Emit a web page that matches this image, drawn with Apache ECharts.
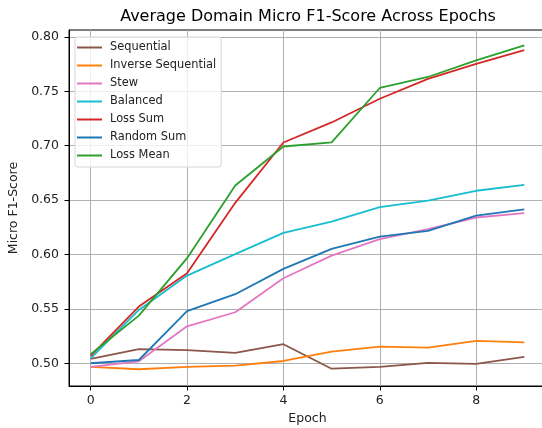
<!DOCTYPE html>
<html>
<head>
<meta charset="utf-8">
<script src="https://cdn.jsdelivr.net/npm/echarts@6/dist/echarts.min.js"></script>
<style>
  html, body { margin: 0; padding: 0; background: #fff; }
  #chart { width: 542px; height: 428px; }
</style>
</head>
<body>
<div id="chart"></div>
<script>
// Epochs on the x axis
const epochs = [0, 1, 2, 3, 4, 5, 6, 7, 8, 9];

// Average domain micro F1 per epoch, one array per training strategy
const sequential        = [0.504, 0.513, 0.512, 0.5095, 0.5175, 0.495, 0.4966, 0.5003, 0.4994, 0.5058];
const inverseSequential = [0.4966, 0.4945, 0.4966, 0.4978, 0.5021, 0.5107, 0.5153, 0.5144, 0.5205, 0.5193];
const stew              = [0.4966, 0.5018, 0.534, 0.5469, 0.5782, 0.599, 0.6141, 0.6233, 0.634, 0.638];
const balanced          = [0.5046, 0.549, 0.5806, 0.6003, 0.6199, 0.6303, 0.6436, 0.6496, 0.6586, 0.6641];
const lossSum           = [0.5067, 0.5521, 0.5828, 0.6475, 0.703, 0.7214, 0.7432, 0.7614, 0.7752, 0.788];
const randomSum         = [0.500, 0.503, 0.5479, 0.5635, 0.5868, 0.6052, 0.6165, 0.6218, 0.6358, 0.6414];
const lossMean          = [0.5083, 0.5438, 0.5966, 0.6634, 0.6993, 0.703, 0.7531, 0.7632, 0.7785, 0.7923];

// Tick positions
const xTicks = [0, 2, 4, 6, 8];
const yTicks = [0.50, 0.55, 0.60, 0.65, 0.70, 0.75, 0.80];

const seriesDefs = [
  { name: 'Sequential',         values: sequential,        color: '#8c564b' },
  { name: 'Inverse Sequential', values: inverseSequential, color: '#ff7f0e' },
  { name: 'Stew',               values: stew,              color: '#e377c2' },
  { name: 'Balanced',           values: balanced,          color: '#17becf' },
  { name: 'Loss Sum',           values: lossSum,           color: '#d62728' },
  { name: 'Random Sum',         values: randomSum,         color: '#1f77b4' },
  { name: 'Loss Mean',          values: lossMean,          color: '#2ca02c' }
];

const font = 'DejaVu Sans';
const chart = echarts.init(document.getElementById('chart'), null, { renderer: 'canvas' });

chart.setOption({
  animation: false,
  backgroundColor: '#ffffff',
  title: {
    text: 'Average Domain Micro F1-Score Across Epochs',
    left: 303, top: 4, textAlign: 'center',
    textStyle: { fontFamily: font, fontSize: 16, fontWeight: 'normal', color: '#000' }
  },
  // plot area runs slightly past the right edge of the canvas
  grid: {
    left: 69, width: 477, top: 30, height: 356,
    outerBoundsMode: 'none', containLabel: false,
    show: true, borderColor: '#000', borderWidth: 1, backgroundColor: 'transparent'
  },
  legend: {
    orient: 'vertical', left: 75, top: 37,
    icon: 'rect', itemWidth: 25, itemHeight: 2, itemGap: 5,
    padding: [4, 5, 5, 2],
    backgroundColor: 'rgba(255,255,255,0.8)', borderColor: '#d6d6d6', borderWidth: 1, borderRadius: 3,
    textStyle: { fontFamily: font, fontSize: 11.4, color: '#222', lineHeight: 13, padding: [0, 0, 0, 3] },
    data: seriesDefs.map(s => s.name)
  },
  xAxis: {
    type: 'value', min: -0.45, max: 9.45,
    name: 'Epoch', nameLocation: 'middle', nameGap: 26,
    nameTextStyle: { fontFamily: font, fontSize: 12.5, color: '#222' },
    axisLine: { show: true, onZero: false, lineStyle: { color: '#000' } },
    axisTick: { show: true, length: 4.5, customValues: xTicks, lineStyle: { color: '#000' } },
    axisLabel: { customValues: xTicks, fontFamily: font, fontSize: 12.5, color: '#222', margin: 8 },
    splitLine: { show: true, lineStyle: { color: '#b0b0b0', width: 1 } }
  },
  yAxis: {
    type: 'value', min: 0.4791, max: 0.8064,
    name: 'Micro F1-Score', nameLocation: 'middle', nameGap: 43,
    nameTextStyle: { fontFamily: font, fontSize: 12.5, color: '#222' },
    axisLine: { show: true, onZero: false, lineStyle: { color: '#000' } },
    axisTick: { show: true, length: 4.5, customValues: yTicks, lineStyle: { color: '#000' } },
    axisLabel: {
      customValues: yTicks, fontFamily: font, fontSize: 12.5, color: '#222', margin: 10,
      formatter: v => v.toFixed(2)
    },
    splitLine: { show: true, lineStyle: { color: '#b0b0b0', width: 1 } }
  },
  series: seriesDefs.map(s => ({
    name: s.name,
    type: 'line',
    data: epochs.map((e, i) => [e, s.values[i]]),
    showSymbol: false,
    symbol: 'none',
    color: s.color,
    lineStyle: { color: s.color, width: 1.8 },
    itemStyle: { color: s.color }
  }))
});
</script>
</body>
</html>
